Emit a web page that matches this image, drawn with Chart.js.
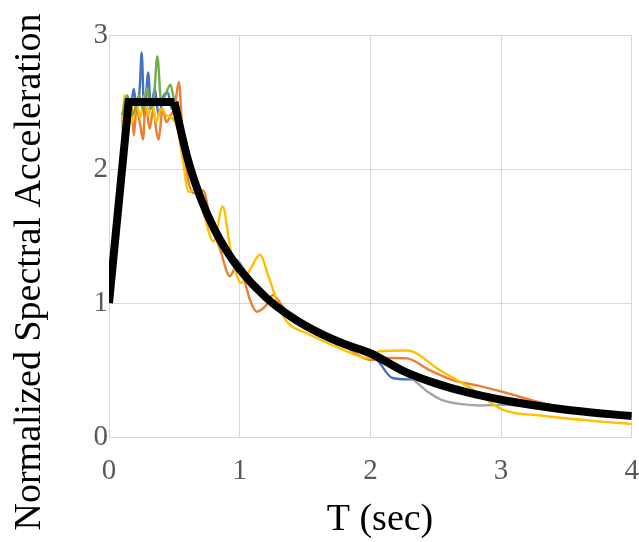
<!DOCTYPE html>
<html><head><meta charset="utf-8">
<script src="https://cdn.jsdelivr.net/npm/chart.js@4"></script>
<style>html,body{margin:0;padding:0;background:#fff}</style></head>
<body><canvas id="c" width="639" height="542"></canvas>
<script>
// Axis ticks and titles
const xTickValues = [0, 1, 2, 3, 4];
const yTickValues = [0, 1, 2, 3];
const xTitle = 'T (sec)';
const yTitle = 'Normalized Spectral Acceleration';

// Design spectrum (black)
const designRiseT  = [0, 0.15, 0.5];
const designRiseSa = [1.0, 2.5, 2.5];
const designDecayT  = [0.5, 0.6, 0.7, 0.8, 0.9, 1.0, 1.2, 1.4, 1.6, 1.8, 2.0, 2.25, 2.5, 2.75, 3.0, 3.25, 3.5, 3.75, 4.0];
const designDecaySa = [2.5, 2.083, 1.786, 1.5625, 1.389, 1.25, 1.042, 0.893, 0.781, 0.694, 0.625, 0.494, 0.40, 0.331, 0.278, 0.237, 0.204, 0.178, 0.156];

// Record 1 (blue)
const blueT  = [0.10,0.13,0.16,0.19,0.21,0.235,0.25,0.27,0.30,0.32,0.35,0.38,0.42,0.45,0.48,0.52,0.55,0.6,0.7,0.8,0.9,1.0,1.05,1.1,1.2,1.4,1.6,1.8,2.0,2.05,2.17,2.3,2.5,2.7,3.0,3.4,3.8,4.0];
const blueSa = [2.35,2.5,2.42,2.6,2.45,2.6,2.87,2.4,2.72,2.45,2.6,2.4,2.55,2.57,2.45,2.5,2.3,2.08,1.78,1.55,1.38,1.3,1.22,1.15,1.05,0.88,0.77,0.68,0.6,0.575,0.44,0.43,0.42,0.35,0.28,0.22,0.17,0.155];

// Record 2 (orange)
const orangeT  = [0.10,0.13,0.15,0.17,0.19,0.21,0.235,0.26,0.28,0.31,0.34,0.36,0.38,0.41,0.44,0.47,0.50,0.535,0.56,0.60,0.65,0.72,0.78,0.85,0.925,0.98,1.02,1.08,1.13,1.2,1.255,1.31,1.4,1.6,1.8,2.0,2.15,2.28,2.45,2.63,2.84,3.0,3.37,3.7,4.0];
const orangeSa = [2.3,2.45,2.3,2.5,2.25,2.45,2.35,2.22,2.5,2.3,2.45,2.3,2.22,2.45,2.35,2.4,2.45,2.65,2.3,1.95,1.82,1.84,1.6,1.4,1.2,1.28,1.22,1.02,0.935,0.98,1.06,1.0,0.88,0.77,0.68,0.575,0.59,0.587,0.5,0.425,0.38,0.34,0.24,0.19,0.15];

// Record 3 (gray)
const grayT  = [0.10,0.15,0.2,0.3,0.4,0.5,0.55,0.6,0.7,0.73,0.8,0.9,1.0,1.1,1.2,1.4,1.6,1.8,2.0,2.2,2.33,2.45,2.55,2.7,2.85,3.0,3.2,3.5,4.0];
const graySa = [2.35,2.45,2.5,2.45,2.5,2.45,2.3,2.05,1.78,1.65,1.55,1.38,1.3,1.15,1.05,0.88,0.77,0.68,0.62,0.5,0.425,0.33,0.275,0.245,0.235,0.24,0.235,0.2,0.155];

// Record 4 (yellow)
const yellowT  = [0.10,0.12,0.14,0.16,0.18,0.21,0.24,0.27,0.30,0.33,0.36,0.40,0.44,0.48,0.52,0.56,0.61,0.66,0.72,0.80,0.87,0.93,1.01,1.08,1.155,1.22,1.32,1.38,1.5,1.77,1.98,2.07,2.28,2.53,2.79,3.02,3.3,3.7,4.0];
const yellowSa = [2.3,2.55,2.3,2.5,2.35,2.5,2.38,2.55,2.4,2.5,2.35,2.45,2.4,2.38,2.32,2.1,1.83,1.85,1.68,1.46,1.72,1.4,1.15,1.25,1.36,1.2,0.925,0.84,0.78,0.66,0.59,0.64,0.645,0.5,0.35,0.2,0.16,0.12,0.097];

// Record 5 (green)
const greenT  = [0.10,0.14,0.17,0.2,0.23,0.26,0.29,0.32,0.345,0.37,0.40,0.43,0.47,0.5,0.55,0.6,0.7,0.8,0.9,1.0,1.2,1.4,1.6,1.8,2.0,2.2,2.4,2.6,2.8,3.0,3.4,3.8,4.0];
const greenSa = [2.4,2.55,2.4,2.45,2.55,2.45,2.6,2.45,2.55,2.84,2.5,2.55,2.63,2.5,2.3,2.05,1.78,1.56,1.39,1.27,1.05,0.88,0.77,0.68,0.62,0.52,0.43,0.37,0.32,0.28,0.22,0.17,0.155];

const pts = (T, S) => T.map((t, i) => ({x: t, y: S[i]}));
const rec = (T, S, color) => ({
  data: pts(T, S), borderColor: color, borderWidth: 2.4, pointRadius: 0,
  cubicInterpolationMode: 'monotone', fill: false
});

const serif = '"Liberation Serif", "Times New Roman", serif';

const axisTitles = {
  id: 'axisTitles',
  afterDraw(chart) {
    const ctx = chart.ctx;
    ctx.save();
    ctx.fillStyle = '#000';
    ctx.font = '38px ' + serif;
    ctx.textAlign = 'center';
    ctx.textBaseline = 'middle';
    ctx.fillText(xTitle, 380, 520);
    ctx.translate(30, 272);
    ctx.rotate(-Math.PI / 2);
    ctx.fillText(yTitle, 0, 0);
    ctx.restore();
  }
};

new Chart(document.getElementById('c'), {
  type: 'line',
  data: {
    datasets: [
      {data: pts(designRiseT, designRiseSa), borderColor: '#000', borderWidth: 8, pointRadius: 0, tension: 0, borderJoinStyle: 'miter', borderCapStyle: 'butt'},
      {data: pts(designDecayT, designDecaySa), borderColor: '#000', borderWidth: 8, pointRadius: 0, cubicInterpolationMode: 'monotone', borderCapStyle: 'butt'},
      rec(greenT, greenSa, '#70AD47'),
      rec(yellowT, yellowSa, '#FFC000'),
      rec(grayT, graySa, '#A5A5A5'),
      rec(orangeT, orangeSa, '#ED7D31'),
      rec(blueT, blueSa, '#4472C4')
    ]
  },
  plugins: [axisTitles],
  options: {
    responsive: false, animation: false,
    layout: {padding: {top: 35, right: 7, left: 0, bottom: 0}},
    plugins: {legend: {display: false}, tooltip: {enabled: false}},
    scales: {
      x: {
        type: 'linear', min: 0, max: 4,
        afterBuildTicks: s => { s.ticks = xTickValues.map(v => ({value: v})); },
        afterFit: s => { s.height = 105; },
        ticks: {color: '#595959', font: {family: serif, size: 29}, padding: 0},
        grid: {color: '#d9d9d9', lineWidth: 1, drawTicks: true, tickLength: 17, tickColor: 'rgba(0,0,0,0)'},
        border: {color: '#d9d9d9'}
      },
      y: {
        type: 'linear', min: 0, max: 3,
        afterBuildTicks: s => { s.ticks = yTickValues.map(v => ({value: v})); },
        afterFit: s => { s.width = 109; },
        ticks: {color: '#595959', font: {family: serif, size: 29}, padding: 1},
        grid: {color: '#d9d9d9', lineWidth: 1, drawTicks: false},
        border: {color: '#d9d9d9'}
      }
    }
  }
});
</script>
</body></html>
